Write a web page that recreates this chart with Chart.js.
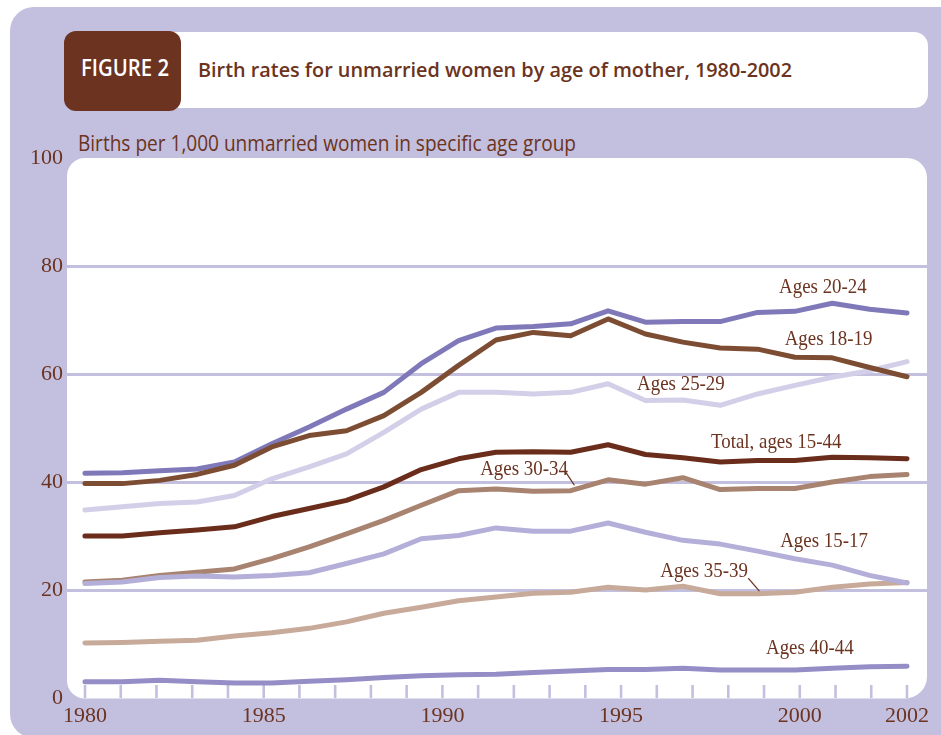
<!DOCTYPE html>
<html>
<head>
<meta charset="utf-8">
<script src="https://cdn.jsdelivr.net/npm/chart.js@4.4.1/dist/chart.umd.min.js"></script>
<style>
html,body{margin:0;padding:0;background:#fff;width:941px;height:735px;overflow:hidden;}
body{position:relative;}
#panel{position:absolute;left:10px;top:7px;width:990px;height:731px;background:#c3bfdf;border-radius:24px 0 0 24px;}
#titlebox{position:absolute;left:64px;top:32px;width:864px;height:76px;background:#fff;border-radius:14px;}
#figbox{position:absolute;left:64px;top:31px;width:117px;height:80px;background:#6b3320;border-radius:12px;}
.t{position:absolute;white-space:nowrap;transform-origin:0 0;line-height:1;}
#figtext{color:#fff;font-family:"Open Sans";font-size:23px;font-weight:600;}
#title{color:#6b3320;font-family:"Open Sans";font-size:19.5px;font-weight:600;}
#ytitle{color:#6b3320;font-family:"Open Sans";font-size:22px;font-weight:400;}
canvas{position:absolute;left:0;top:0;}
</style>
</head>
<body>
<div id="panel"></div>
<div id="titlebox"></div>
<div id="figbox"></div>
<div class="t" id="figtext">FIGURE 2</div>
<div class="t" id="title">Birth rates for unmarried women by age of mother, 1980-2002</div>
<div class="t" id="ytitle">Births per 1,000 unmarried women in specific age group</div>
<canvas id="c" width="941" height="735"></canvas>
<script>
// ---- data ----
const years = [1980,1981,1982,1983,1984,1985,1986,1987,1988,1989,1990,1991,1992,1993,1994,1995,1996,1997,1998,1999,2000,2001,2002];
const ages2024 = [41.6,41.7,42.1,42.4,43.7,47.1,50.2,53.5,56.6,61.9,66.2,68.5,68.8,69.3,71.7,69.6,69.7,69.7,71.4,71.6,73.1,72.0,71.3];
const ages1819 = [39.7,39.7,40.3,41.4,43.1,46.5,48.6,49.5,52.3,56.6,61.6,66.3,67.7,67.1,70.2,67.4,65.9,64.8,64.6,63.1,63.0,61.2,59.5];
const ages2529 = [34.8,35.4,36.0,36.3,37.5,40.6,42.8,45.2,49.2,53.5,56.6,56.6,56.3,56.6,58.2,55.1,55.2,54.2,56.3,57.9,59.4,60.6,62.3];
const total1544 = [30.0,30.0,30.6,31.1,31.7,33.6,35.1,36.6,39.1,42.3,44.3,45.5,45.6,45.5,46.9,45.1,44.5,43.7,44.0,44.0,44.6,44.5,44.3];
const ages3034 = [21.5,21.8,22.7,23.3,23.9,25.8,28.0,30.4,32.9,35.7,38.4,38.7,38.3,38.4,40.4,39.6,40.8,38.6,38.8,38.8,40.0,41.0,41.4];
const ages1517 = [21.2,21.5,22.3,22.6,22.4,22.7,23.2,24.9,26.7,29.5,30.1,31.5,30.9,30.9,32.4,30.7,29.2,28.5,27.2,25.8,24.6,22.7,21.3];
const ages3539 = [10.2,10.3,10.5,10.7,11.5,12.1,12.9,14.1,15.7,16.8,18.0,18.7,19.4,19.6,20.5,20.0,20.7,19.3,19.3,19.6,20.5,21.1,21.4];
const ages4044 = [3.0,3.0,3.3,3.0,2.8,2.8,3.1,3.4,3.8,4.1,4.3,4.4,4.7,5.0,5.3,5.3,5.5,5.2,5.2,5.2,5.5,5.8,5.9];
const xTickLabels = ['1980','','','','','1985','','','','','1990','','','','','1995','','','','','2000','','','2002'];
const yTicks = [0,20,40,60,80,100];

// ---- series labels (data coordinates) ----
const seriesLabels = [
  {text:'Ages 20-24', x:1999.75, y:76.1},
  {text:'Ages 18-19', x:1999.9, y:66.3},
  {text:'Ages 25-29', x:1995.95, y:58.0},
  {text:'Total, ages 15-44', x:1998.5, y:47.4},
  {text:'Ages 30-34', x:1991.75, y:42.3},
  {text:'Ages 15-17', x:1999.78, y:28.9},
  {text:'Ages 35-39', x:1996.57, y:23.4},
  {text:'Ages 40-44', x:1999.4, y:9.1}
];
const leaders = [
  {x1:1992.87, y1:41.8, x2:1993.1, y2:39.4},
  {x1:1997.75, y1:22.2, x2:1998.05, y2:19.8}
];

const LAV = '#c3bfdf';
const BROWN = '#6b3320';

// ---- header text fitting ----
function place(id, left, baseline, width, fs){
  const el = document.getElementById(id);
  const w = el.getBoundingClientRect().width;
  const k = width / w;
  el.style.left = left + 'px';
  el.style.top = (baseline - fs*0.888) + 'px';
  el.style.transform = 'scaleX(' + k + ')';
}
place('figtext', 81, 76, 88, 23);
place('title', 198, 77.5, 594, 19.5);
place('ytitle', 78, 150.5, 498, 22);

// ---- plugins ----
function rrect(ctx, x, y, w, h, r){
  const [tl,tr,br,bl] = r;
  ctx.beginPath();
  ctx.moveTo(x+tl, y);
  ctx.lineTo(x+w-tr, y); ctx.arcTo(x+w, y, x+w, y+tr, tr);
  ctx.lineTo(x+w, y+h-br); ctx.arcTo(x+w, y+h, x+w-br, y+h, br);
  ctx.lineTo(x+bl, y+h); ctx.arcTo(x, y+h, x, y+h-bl, bl);
  ctx.lineTo(x, y+tl); ctx.arcTo(x, y, x+tl, y, tl);
  ctx.closePath();
}
const whiteArea = {
  id:'whiteArea',
  beforeDraw(chart){
    const {ctx, chartArea:a} = chart;
    ctx.save();
    ctx.fillStyle = '#fff';
    rrect(ctx, a.left, a.top, a.right-a.left, a.bottom-a.top+0.5, [18,20,22,18]);
    ctx.fill();
    ctx.restore();
  }
};
const tickMarks = {
  id:'tickMarks',
  beforeDatasetsDraw(chart){
    const s = chart.scales.xt, a = chart.chartArea, ctx = chart.ctx;
    ctx.save();
    ctx.strokeStyle = LAV; ctx.lineWidth = 2.6;
    s.ticks.forEach(t => {
      const x = s.getPixelForValue(t.value);
      ctx.beginPath(); ctx.moveTo(x, a.bottom-13); ctx.lineTo(x, a.bottom); ctx.stroke();
    });
    ctx.restore();
  }
};
const labelPlugin = {
  id:'labelPlugin',
  afterDatasetsDraw(chart){
    const ctx = chart.ctx, sx = chart.scales.x, sy = chart.scales.y;
    ctx.save();
    ctx.fillStyle = BROWN;
    ctx.font = '21px "Liberation Serif"';
    ctx.textAlign = 'center';
    ctx.textBaseline = 'middle';
    seriesLabels.forEach(l => {
      const px = sx.getPixelForValue(l.x), py = sy.getPixelForValue(l.y);
      ctx.save();
      ctx.translate(px, py);
      ctx.scale(0.9, 1);
      ctx.fillText(l.text, 0, 0);
      ctx.restore();
    });
    ctx.strokeStyle = BROWN; ctx.lineWidth = 1.3;
    leaders.forEach(l => {
      ctx.beginPath();
      ctx.moveTo(sx.getPixelForValue(l.x1), sy.getPixelForValue(l.y1));
      ctx.lineTo(sx.getPixelForValue(l.x2), sy.getPixelForValue(l.y2));
      ctx.stroke();
    });
    ctx.restore();
  }
};

// ---- chart ----
function ds(label, arr, color){
  return {label, data: years.map((y,i)=>({x:y, y:arr[i]})), borderColor: color,
    borderWidth: 5, pointRadius: 0, tension: 0, borderCapStyle:'round', borderJoinStyle:'round', xAxisID:'x', yAxisID:'y'};
}
Chart.defaults.font.family = '"Liberation Serif"';
new Chart(document.getElementById('c'), {
  type: 'line',
  data: {
    datasets: [
      ds('Total, ages 15-44', total1544, '#6a2d1b'),
      ds('Ages 18-19', ages1819, '#7d4d33'),
      ds('Ages 20-24', ages2024, '#7f79b9'),
      ds('Ages 15-17', ages1517, '#b4afd9'),
      ds('Ages 30-34', ages3034, '#a88370'),
      ds('Ages 35-39', ages3539, '#c8aa9a'),
      ds('Ages 25-29', ages2529, '#d3cfe8'),
      ds('Ages 40-44', ages4044, '#958dc6')
    ]
  },
  options: {
    responsive: false,
    animation: false,
    devicePixelRatio: 1,
    layout: {padding: {top:158, right:14, bottom:0, left:0}},
    plugins: {legend:{display:false}, tooltip:{enabled:false}, title:{display:false}},
    scales: {
      x: {type:'linear', display:false, min:1979.52, max:2002.535},
      xt: {
        type:'linear', position:'bottom', min:-0.5036, max:23.56,
        afterBuildTicks: s => { s.ticks = xTickLabels.map((_, i) => ({value:i})); },
        afterFit: s => { s.height = 37; },
        grid: {display:false, drawTicks:false},
        border: {display:false},
        ticks: {autoSkip:false, maxRotation:0, padding:5, color:BROWN, font:{size:22},
          callback: v => xTickLabels[v] || ''}
      },
      y: {
        type:'linear', min:0, max:100,
        afterBuildTicks: s => { s.ticks = yTicks.map(v => ({value:v})); },
        afterFit: s => { s.width = 67; },
        grid: {color: c => (c.tick && (c.tick.value === 0 || c.tick.value === 100)) ? 'rgba(0,0,0,0)' : LAV, lineWidth: 3, drawTicks:false},
        border: {display:false},
        ticks: {padding:4, color:BROWN, font:{size:22}}
      }
    }
  },
  plugins: [whiteArea, tickMarks, labelPlugin]
});
</script>
</body>
</html>
